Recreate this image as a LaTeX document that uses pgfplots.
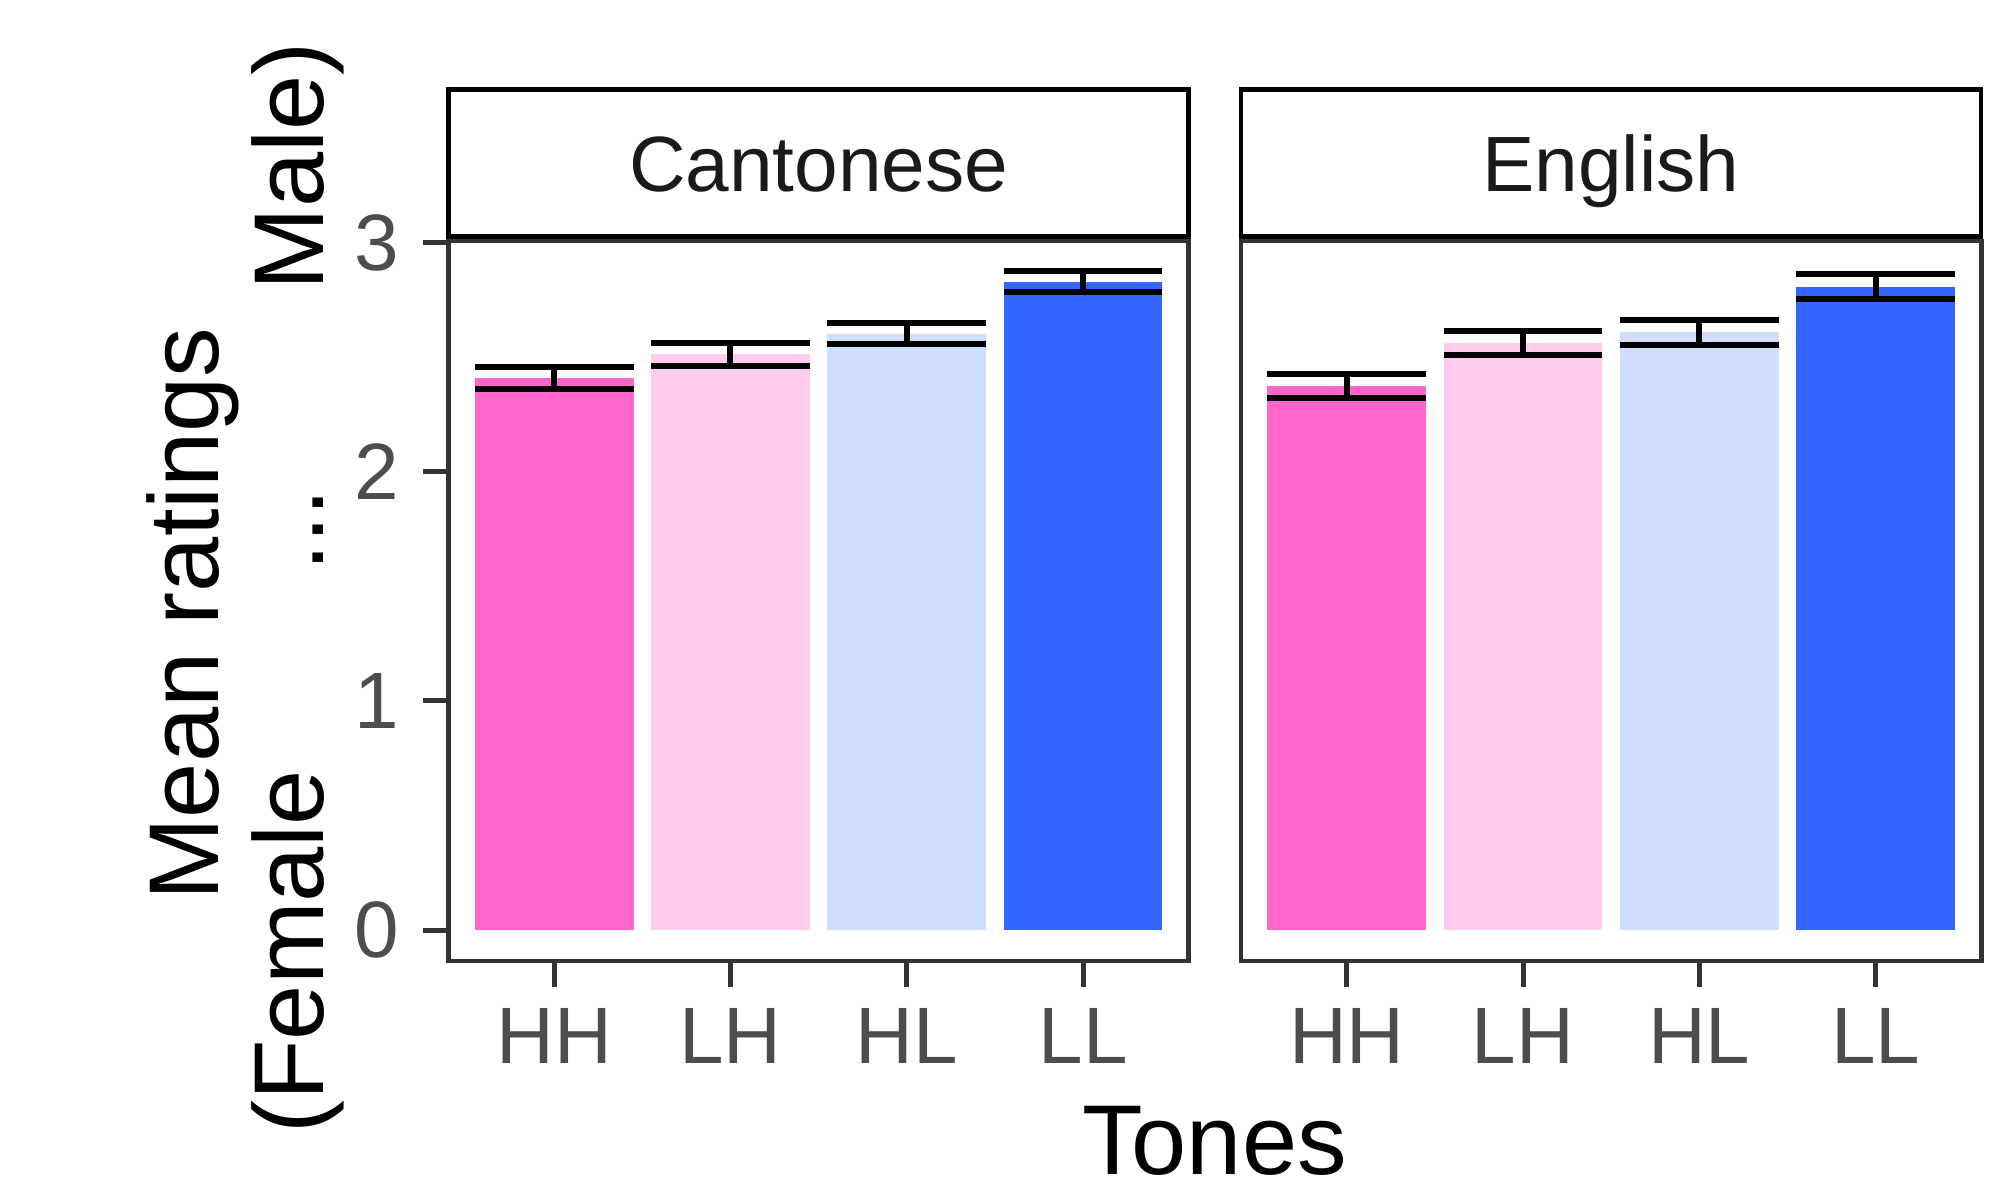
\documentclass[border=0pt]{standalone}
\usepackage{fontspec}
\setmainfont{Liberation Sans}
\usepackage{pgfplots}
\pgfplotsset{compat=1.18}
\definecolor{grey20}{HTML}{333333}
\definecolor{grey30}{HTML}{4D4D4D}
\definecolor{grey10}{HTML}{1A1A1A}
\definecolor{cHH}{HTML}{FF66CC}
\definecolor{cLH}{HTML}{FFCCEE}
\definecolor{cHL}{HTML}{CFDEFF}
\definecolor{cLL}{HTML}{3366FF}
\pgfplotsset{
  panel/.style={
    anchor=south west,
    scale only axis,
    width=185.1pt, height=180pt,
    xmin=0.4, xmax=4.6, ymin=-0.135, ymax=3.0065,
    xtick={1,2,3,4}, xticklabels={HH,LH,HL,LL},
    tick pos=left,
    tick align=outside,
    major tick length=6.4pt,
    axis line style={draw=grey20, line width=1.17pt},
    tick style={draw=grey20, line width=1.25pt},
    /pgf/number format/assume math mode=true,
    ticklabel style={font=\fontsize{20}{24}\selectfont, text=grey30},
    xticklabel style={inner sep=0pt, yshift=-5.3pt},
    yticklabel style={inner sep=0pt, xshift=-5.7pt},
    ybar, bar shift=0pt, bar width=0.9,
    every axis plot/.append style={draw=none},
  },
  eb/.style={
    error bars/.cd, y dir=both, y explicit,
    error mark=|,
    error bar style={black, line width=1.5pt},
    error mark options={black, line width=1.5pt, mark size=19.84pt},
  },
}
\begin{document}
\begin{tikzpicture}
\path[use as bounding box] (0,0) rectangle (502.75pt,295pt);
% Cantonese
\begin{axis}[panel, at={(112.1pt,54.75pt)}, ytick={0,1,2,3}]
\addplot[fill=cHH, eb] coordinates {(1,2.408) +- (0,0.048)};
\addplot[fill=cLH, eb] coordinates {(2,2.513) +- (0,0.050)};
\addplot[fill=cHL, eb] coordinates {(3,2.602) +- (0,0.047)};
\addplot[fill=cLL, eb] coordinates {(4,2.828) +- (0,0.046)};
\end{axis}
% English
\begin{axis}[panel, at={(310.25pt,54.75pt)}, ytick=\empty]
\addplot[fill=cHH, eb] coordinates {(1,2.373) +- (0,0.052)};
\addplot[fill=cLH, eb] coordinates {(2,2.561) +- (0,0.052)};
\addplot[fill=cHL, eb] coordinates {(3,2.609) +- (0,0.055)};
\addplot[fill=cLL, eb] coordinates {(4,2.807) +- (0,0.055)};
\end{axis}
% strips
\draw[black, line width=1.17pt] (112.1pt,235.9pt) rectangle (297.2pt,272.6pt);
\draw[black, line width=1.17pt] (310.25pt,235.9pt) rectangle (495.25pt,272.6pt);
\node[anchor=base, inner sep=0pt, text=grey10, font=\fontsize{19.6}{24}\selectfont] at (204.65pt,247.1pt) {Cantonese};
\node[anchor=base, inner sep=0pt, text=grey10, font=\fontsize{19.6}{24}\selectfont] at (402.75pt,247.1pt) {English};
% axis titles
\node[anchor=base, inner sep=0pt, font=\fontsize{24.8}{28}\selectfont] at (303.6pt,1.3pt) {Tones};
\node[anchor=base, rotate=90, inner sep=0pt, font=\fontsize{24.8}{28}\selectfont] at (54.5pt,141.5pt) {Mean ratings};
\node[anchor=base, rotate=90, inner sep=0pt, font=\fontsize{24.8}{28}\selectfont] at (80.75pt,148pt) {(Female\hspace{2em}...\hspace{2em}Male)};
\end{tikzpicture}
\end{document}
